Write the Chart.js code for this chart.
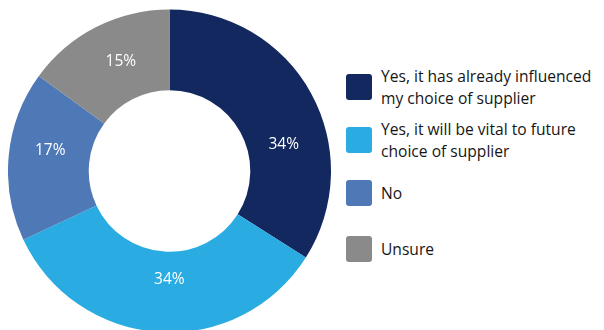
<!DOCTYPE html>
<html>
<head>
<meta charset="utf-8">
<script src="https://cdn.jsdelivr.net/npm/chart.js@4/dist/chart.umd.min.js"></script>
<style>
  html, body { margin: 0; padding: 0; background: #fff; }
  body { width: 604px; height: 330px; overflow: hidden; position: relative; font-family: "Open Sans", sans-serif; }
  #wrap { position: absolute; left: 8px; top: 9px; width: 323px; height: 324px; }
  #legend { position: absolute; left: 346px; top: 0; width: 258px; }
  .item { position: absolute; left: 0; display: flex; align-items: center; }
  .box { width: 26px; height: 26px; border-radius: 3px; flex: none; }
  .txt { margin-left: 9px; font-size: 15.6px; font-weight: 500; line-height: 22px; color: #161616; white-space: nowrap; }
</style>
</head>
<body>
<div id="wrap"><canvas id="chart"></canvas></div>
<div id="legend"></div>
<script>
const categories = [
  ["Yes, it has already influenced", "my choice of supplier"],
  ["Yes, it will be vital to future", "choice of supplier"],
  ["No"],
  ["Unsure"]
];
const shares = [34, 34, 17, 15];
const colors = ["#12285f", "#2aace2", "#4e78b6", "#8a8a8a"];

// white percentage labels inside each slice
const sliceLabels = {
  id: "sliceLabels",
  afterDatasetsDraw(chart, args, opts) {
    const ctx = chart.ctx;
    const meta = chart.getDatasetMeta(0);
    ctx.save();
    ctx.font = "500 15.5px 'Open Sans', sans-serif";
    ctx.fillStyle = "#fff";
    ctx.textAlign = "center";
    ctx.textBaseline = "middle";
    meta.data.forEach((arc, i) => {
      const nudge = (opts.nudge[i] || 0) * Math.PI / 180;
      const a = (arc.startAngle + arc.endAngle) / 2 + nudge;
      const r = arc.innerRadius + (arc.outerRadius - arc.innerRadius) * opts.radius[i];
      ctx.fillText(shares[i] + "%", arc.x + Math.cos(a) * r, arc.y + Math.sin(a) * r);
    });
    ctx.restore();
  }
};

new Chart(document.getElementById("chart"), {
  type: "doughnut",
  data: {
    labels: categories.map(c => c.join(" ")),
    datasets: [{
      data: shares,
      backgroundColor: colors,
      borderWidth: 0
    }]
  },
  options: {
    responsive: true,
    maintainAspectRatio: false,
    animation: false,
    cutout: "50%",
    layout: { padding: 0 },
    plugins: {
      legend: { display: false },
      tooltip: { enabled: false },
      sliceLabels: { nudge: [16, -3.5, 4.5, 3], radius: [0.45, 0.34, 0.5, 0.48] }
    }
  },
  plugins: [sliceLabels]
});

// legend on the right
const legend = document.getElementById("legend");
const centers = [87, 139.5, 193, 248.5];
categories.forEach((lines, i) => {
  const item = document.createElement("div");
  item.className = "item";
  const h = Math.max(26, lines.length * 22);
  item.style.top = (centers[i] - h / 2) + "px";
  item.style.height = h + "px";
  item.innerHTML = `<div class="box" style="background:${colors[i]}"></div><div class="txt">${lines.join("<br>")}</div>`;
  legend.appendChild(item);
});
</script>
</body>
</html>
